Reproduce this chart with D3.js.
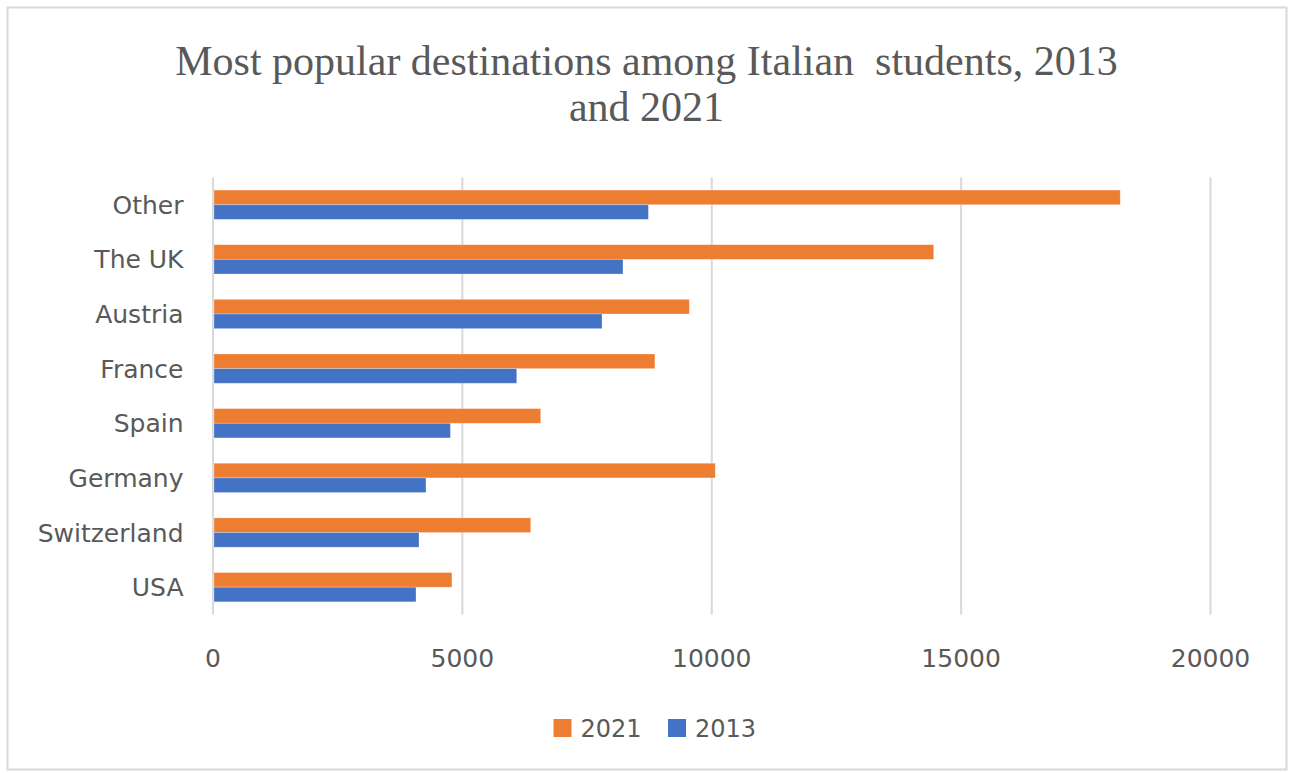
<!DOCTYPE html>
<html>
<head>
<meta charset="utf-8">
<script src="https://cdn.jsdelivr.net/npm/d3@7"></script>
<style>
  html, body { margin: 0; padding: 0; background: #ffffff; }
  svg { display: block; }
</style>
</head>
<body>
<svg id="chart" width="1289" height="773"></svg>
<script>
// Destinations, listed top to bottom as drawn
const categories = ["Other", "The UK", "Austria", "France", "Spain", "Germany", "Switzerland", "USA"];
const seriesNames = ["2021", "2013"];
const values2021 = [18200, 14460, 9560, 8870, 6580, 10080, 6380, 4800];
const values2013 = [8740, 8230, 7810, 6100, 4770, 4280, 4140, 4080];
const xTicks = [0, 5000, 10000, 15000, 20000];
const titleLines = ["Most popular destinations among Italian  students, 2013", "and 2021"];

const colors = { "2021": "#ED7D31", "2013": "#4472C4" };
const textColor = "#595959";
const gridColor = "#d9d9d9";

const svg = d3.select("#chart");

// chart frame
svg.append("rect")
  .attr("x", 7.5).attr("y", 7.5)
  .attr("width", 1279).attr("height", 762)
  .attr("fill", "#ffffff")
  .attr("stroke", gridColor)
  .attr("stroke-width", 2);

// title
svg.append("g")
  .selectAll("text")
  .data(titleLines)
  .join("text")
  .attr("x", 646.5)
  .attr("y", (d, i) => 75 + i * 46)
  .attr("text-anchor", "middle")
  .attr("fill", textColor)
  .style("font-family", "'Liberation Serif', 'Times New Roman', serif")
  .style("font-size", "42px")
  .style("white-space", "pre")
  .text(d => d);

const plot = { left: 212.5, right: 1210, top: 177.4, bottom: 614.5 };

const x = d3.scaleLinear().domain([0, 20000]).range([plot.left, plot.right]);
const y0 = d3.scaleBand().domain(categories).range([plot.top, plot.bottom]).padding(0);
const y1 = d3.scaleBand().domain(seriesNames).range([0, y0.bandwidth()])
  .paddingInner(0).paddingOuter(0.865);

// vertical gridlines and tick labels
const xAxis = d3.axisBottom(x)
  .tickValues(xTicks)
  .tickSize(-(plot.bottom - plot.top))
  .tickPadding(34.5)
  .tickFormat(d3.format("d"));

const gx = svg.append("g")
  .attr("transform", `translate(0,${plot.bottom})`)
  .call(xAxis);
gx.select(".domain").remove();
gx.selectAll(".tick line")
  .attr("stroke", gridColor)
  .attr("stroke-width", 2);
gx.selectAll(".tick text")
  .attr("fill", textColor)
  .style("font-family", "'DejaVu Sans', sans-serif")
  .style("font-size", "25px");

// category labels
svg.append("g")
  .selectAll("text")
  .data(categories)
  .join("text")
  .attr("x", 183.5)
  .attr("y", d => y0(d) + y0.bandwidth() / 2)
  .attr("dy", "0.36em")
  .attr("text-anchor", "end")
  .attr("fill", textColor)
  .style("font-family", "'DejaVu Sans', sans-serif")
  .style("font-size", "25px")
  .text(d => d);

// bars
const rows = categories.map((c, i) => ({
  category: c,
  entries: [
    { series: "2021", value: values2021[i] },
    { series: "2013", value: values2013[i] }
  ]
}));

svg.append("g")
  .selectAll("g")
  .data(rows)
  .join("g")
  .attr("transform", d => `translate(0,${y0(d.category)})`)
  .selectAll("rect")
  .data(d => d.entries)
  .join("rect")
  .attr("x", x(0) + 1.5)
  .attr("y", d => y1(d.series))
  .attr("width", d => x(d.value) - x(0) - 1.5)
  .attr("height", y1.bandwidth())
  .attr("fill", d => colors[d.series])
  .attr("stroke", "#ffffff")
  .attr("stroke-opacity", 0.35)
  .attr("stroke-width", 0.75);

// legend
const legendItems = [
  { name: "2021", x: 553.5 },
  { name: "2013", x: 668 }
];
const legend = svg.append("g")
  .selectAll("g")
  .data(legendItems)
  .join("g")
  .attr("transform", d => `translate(${d.x},719)`);
legend.append("rect")
  .attr("width", 18).attr("height", 18)
  .attr("fill", d => colors[d.name]);
legend.append("text")
  .attr("x", 27)
  .attr("y", 18)
  .attr("fill", textColor)
  .style("font-family", "'DejaVu Sans', sans-serif")
  .style("font-size", "24px")
  .text(d => d.name);
</script>
</body>
</html>
